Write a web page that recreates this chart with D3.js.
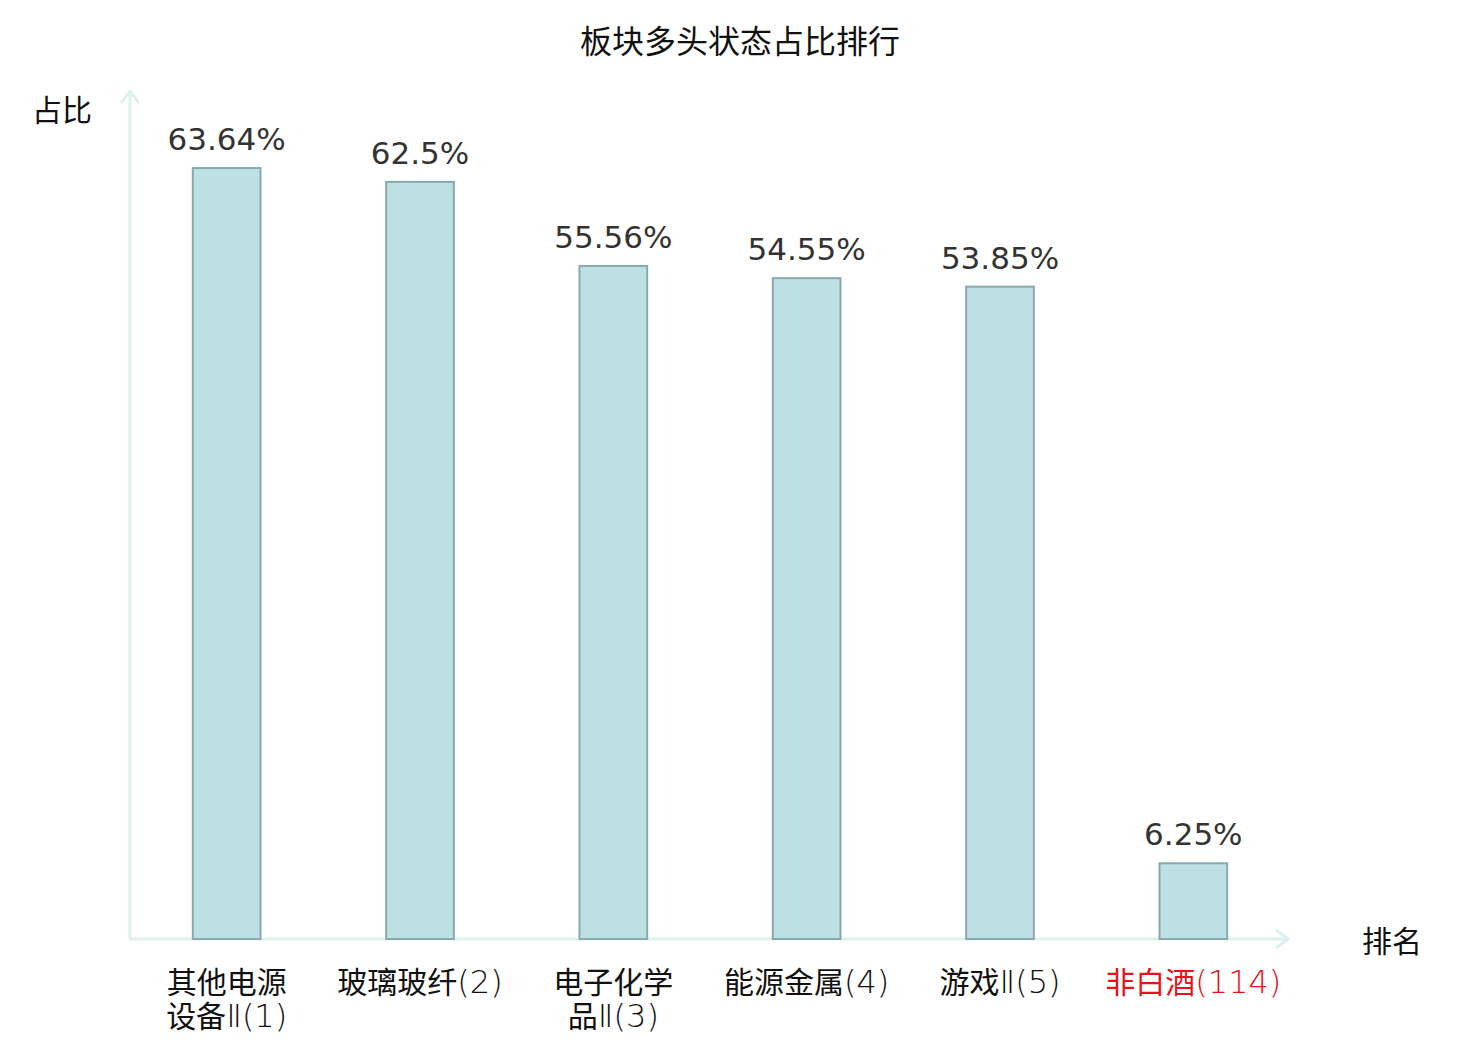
<!doctype html>
<html>
  <head>
    <meta charset="utf-8" />
    <title>板块多头状态占比排行</title>
    <script type="text/javascript" src="https://cdnjs.cloudflare.com/ajax/libs/d3/7.8.5/d3.min.js"></script>
    <style>
      body {
        margin:0;
        background:#fff;
      }
      .chart > svg {
        display:block;
      }
    </style>
  </head>
  <body>
    <div class="chart"></div>
    <script type="text/javascript">

/*chart data*/
var categories = ["其他电源设备Ⅱ(1)", "玻璃玻纤(2)", "电子化学品Ⅱ(3)", "能源金属(4)", "游戏Ⅱ(5)", "非白酒(114)"];
var values = [63.64, 62.5, 55.56, 54.55, 53.85, 6.25];
var highlighted = ["非白酒(114)"];
var title_text = "板块多头状态占比排行";
var y_label = "占比";
var x_label = "排名";

var width = 1480, height = 1040;
var cjk = "'Noto Sans CJK SC', 'Noto Sans', sans-serif";
var latin = "'DejaVu Sans', sans-serif";

function main() {
  var svg = d3.select(".chart").append("svg")
    .attr("width", width)
    .attr("height", height);

  var x = d3.scaleBand()
    .domain(categories)
    .range([130, 1290])
    .paddingInner(0.65)
    .paddingOuter(0.325);

  var y = d3.scaleLinear()
    .domain([0, 70])
    .range([939, 91]);

  /*title*/
  svg.append("text")
    .attr("x", 740)
    .attr("y", 53)
    .attr("text-anchor", "middle")
    .attr("font-family", cjk)
    .attr("font-size", 32)
    .attr("fill", "#111")
    .text(title_text);

  /*axes drawn as arrows*/
  var axis_color = "#ddf1ee";
  var axes = svg.append("g")
    .attr("stroke", axis_color)
    .attr("stroke-width", 3)
    .attr("fill", "none");

  axes.append("line")
    .attr("x1", 130).attr("y1", y(0))
    .attr("x2", 130).attr("y2", y(70));
  axes.append("path")
    .attr("d", "M" + (130 - 9) + "," + (y(70) + 12) + "L130," + y(70) + "L" + (130 + 9) + "," + (y(70) + 12));

  axes.append("line")
    .attr("x1", 130).attr("y1", y(0))
    .attr("x2", 1288).attr("y2", y(0));
  axes.append("path")
    .attr("d", "M" + (1288 - 12) + "," + (y(0) - 9) + "L1288," + y(0) + "L" + (1288 - 12) + "," + (y(0) + 9));

  /*bars*/
  svg.selectAll("rect.bar")
    .data(values)
    .enter()
    .append("rect")
    .attr("class", "bar")
    .attr("x", function(d, i) { return x(categories[i]); })
    .attr("y", function(d) { return y(d); })
    .attr("width", x.bandwidth())
    .attr("height", function(d) { return y(0) - y(d); })
    .attr("fill", "#bce0e3")
    .attr("stroke", "#8aa9ab")
    .attr("stroke-width", 2);

  /*value labels*/
  svg.selectAll("text.value")
    .data(values)
    .enter()
    .append("text")
    .attr("class", "value")
    .attr("x", function(d, i) { return x(categories[i]) + x.bandwidth() / 2; })
    .attr("y", function(d) { return y(d) - 18; })
    .attr("text-anchor", "middle")
    .attr("font-family", latin)
    .attr("font-size", 31)
    .attr("fill", "#333")
    .text(function(d) { return d + "%"; });

  /*category labels, long ones wrapped after 4 chars;
  chinese runs in the CJK font, the rest in a thin latin font*/
  var labels = svg.selectAll("text.cat")
    .data(categories)
    .enter()
    .append("text")
    .attr("class", "cat")
    .attr("x", function(d) { return x(d) + x.bandwidth() / 2; })
    .attr("y", 993)
    .attr("text-anchor", "middle")
    .attr("font-family", cjk)
    .attr("font-size", 30)
    .attr("fill", function(d) { return highlighted.indexOf(d) >= 0 ? "#e8121a" : "#111"; });

  labels.each(function(d) {
    var lines = d.length > 8 ? [d.slice(0, 4), d.slice(4)] : [d];
    var t = d3.select(this);
    lines.forEach(function(line, i) {
      var runs = line.match(/[\u4e00-\u9fff]+|[^\u4e00-\u9fff]+/g);
      runs.forEach(function(run, j) {
        var span = t.append("tspan").text(run);
        if (j === 0) {
          span.attr("x", x(d) + x.bandwidth() / 2)
            .attr("dy", i === 0 ? 0 : 34);
        }
        if (!/[\u4e00-\u9fff]/.test(run)) {
          span.attr("font-family", latin)
            .attr("font-weight", 200)
            .attr("font-size", 32);
        }
      });
    });
  });

  /*axis names*/
  svg.append("text")
    .attr("x", 92)
    .attr("y", 121)
    .attr("text-anchor", "end")
    .attr("font-family", cjk)
    .attr("font-size", 30)
    .attr("fill", "#111")
    .text(y_label);

  svg.append("text")
    .attr("x", 1362)
    .attr("y", 952)
    .attr("font-family", cjk)
    .attr("font-size", 30)
    .attr("fill", "#111")
    .text(x_label);
}

document.addEventListener("DOMContentLoaded", main);

    </script>
  </body>
</html>
